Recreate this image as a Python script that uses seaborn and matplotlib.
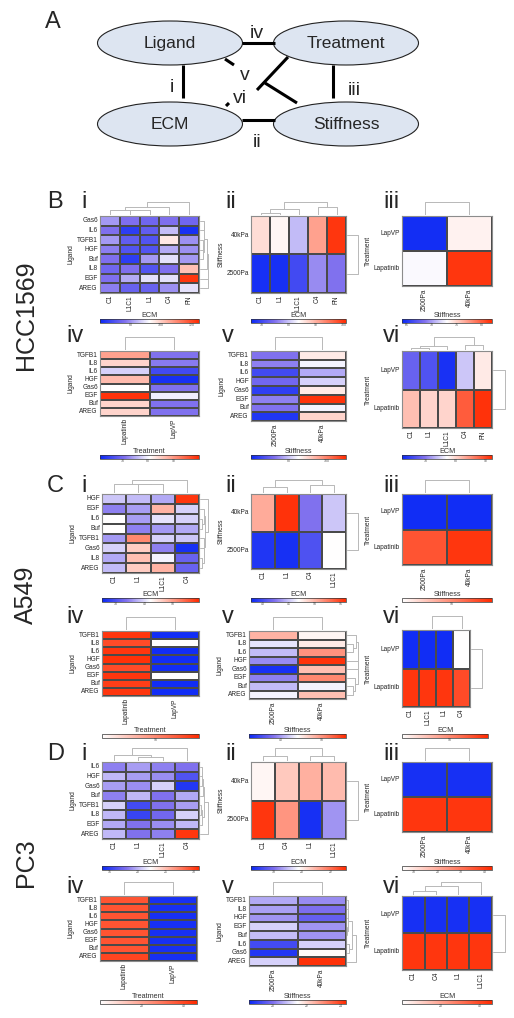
import numpy as np
import pandas as pd
import matplotlib
matplotlib.use("Agg")
import matplotlib.pyplot as plt
import seaborn as sns
from matplotlib.colors import LinearSegmentedColormap, TwoSlopeNorm, Normalize
from matplotlib.cm import ScalarMappable
from matplotlib.patches import Ellipse

sns.set_style("white")
plt.rcParams["font.family"] = ["Liberation Sans", "DejaVu Sans"]

# ---------------- data ----------------
TRT = ["LapVP", "Lapatinib"]
TRT_COLS = ["Lapatinib", "LapVP"]
STF = ["40kPa", "2500Pa"]
STF_COLS = ["2500Pa", "40kPa"]
LIG_ORDER = ["TGFB1", "IL8", "IL6", "HGF", "Gas6", "EGF", "Buf", "AREG"]

# HCC1569
hcc_lig_rows = ["Gas6", "IL6", "TGFB1", "HGF", "Buf", "IL8", "EGF", "AREG"]
hcc_ecm_cols_i = ["C1", "L1C1", "L1", "C4", "FN"]
hcc_lig_ecm = [[81, 76, 74, 76, 74],
               [76, 65, 72, 85, 62],
               [81, 72, 70, 96, 80],
               [78, 70, 70, 83, 80],
               [76, 65, 81, 89, 81],
               [74, 76, 70, 76, 102],
               [76, 83, 89, 89, 123],
               [78, 73, 73, 80, 89]]
hcc_ecm_cols_ii = ["C1", "L1", "L1C1", "C4", "FN"]
hcc_stf_ecm = [[86.3, 84.2, 79.3, 91.2, 100],
               [67, 67, 70.2, 76.5, 74.8]]
hcc_trt_stf = [[64.4, 73.5],
               [72.8, 81.5]]
hcc_lig_trt = [[89.1, 70.8], [84.4, 71.5], [77.4, 65.7], [86.7, 62.2],
               [80.5, 70.8], [99.2, 79.3], [84.4, 70.8], [84.4, 70.8]]
hcc_lig_stf = [[72.5, 87.5], [74, 84], [66, 77.5], [71, 81],
               [64, 87.5], [74, 109], [72.5, 84], [62.5, 90]]
hcc_trt_ecm = [[68, 66.5, 63, 74, 78.5],
               [81.5, 80, 80, 88.4, 91.4]]

# A549
a549_lig_rows = ["HGF", "EGF", "IL6", "Buf", "TGFB1", "Gas6", "IL8", "AREG"]
a549_ecm_cols_i = ["C1", "L1", "L1C1", "C4"]
a549_lig_ecm = [[38.6, 37.9, 36.9, 58],
                [34.5, 36.2, 48.1, 39.3],
                [42, 36.2, 40.3, 39.3],
                [42, 34.5, 35.9, 36.9],
                [35.9, 51.5, 39.3, 38.6],
                [39.3, 46.1, 34.5, 26],
                [36.9, 47.1, 41.3, 31.8],
                [37.9, 46.1, 48.1, 31.8]]
a549_ecm_cols_ii = ["C1", "L1", "C4", "L1C1"]
a549_stf_ecm = [[50.5, 55.6, 42.4, 45.1],
                [38.7, 38.3, 40.5, 46.9]]
a549_trt_stf = [[22.7, 22.7],
                [54.4, 56.9]]
a549_lig_trt = [[56.9, 22.7], [55.1, 40], [56.9, 22.7], [57.3, 22.7],
                [55.1, 22.7], [56.9, 40], [56.2, 22.7], [56.9, 22.7]]
a549_lig_stf = [[48.3, 44.5], [42.8, 45.2], [41.1, 50], [39.2, 55.5],
                [32.7, 47.6], [38.7, 50.7], [41.1, 43.5], [43.5, 47.6]]
a549_ecm_cols_vi = ["C1", "L1C1", "L1", "C4"]
a549_trt_ecm = [[22.7, 22.7, 22.7, 40],
                [56.9, 56.9, 56.9, 55.1]]

# PC3
pc3_lig_rows = ["IL6", "HGF", "Gas6", "Buf", "TGFB1", "IL8", "EGF", "AREG"]
pc3_ecm_cols_i = ["C1", "L1", "L1C1", "C4"]
pc3_lig_ecm = [[18.5, 19.4, 18.5, 18],
               [20.2, 19.4, 18.9, 16.3],
               [19.4, 18.9, 20.9, 14.6],
               [18.5, 20.2, 18, 19.7],
               [20.9, 15.8, 18, 19.4],
               [20.2, 15.4, 17.5, 20.9],
               [19.7, 18, 18.9, 20.2],
               [20.2, 18, 18.5, 30.4]]
pc3_ecm_cols_ii = ["C1", "C4", "L1", "L1C1"]
pc3_stf_ecm = [[19.9, 20.6, 21, 20.8],
               [22.9, 21.4, 16.6, 18.5]]
pc3_trt_stf = [[0.3, 0.3],
               [40.7, 40.7]]
pc3_lig_trt = [[37, -9.4], [37, -9.4], [37, -9.4], [37, -9.4],
               [37, -9.4], [37, -9.4], [37, -9.4], [40, -9.4]]
pc3_lig_rows_v = ["TGFB1", "IL8", "HGF", "EGF", "Buf", "IL6", "Gas6", "AREG"]
pc3_lig_stf = [[20.6, 20.3], [20.5, 20], [20.4, 19.7], [21, 20.4],
               [20.8, 20.4], [19.3, 21], [18.9, 21.5], [21, 24.2]]
pc3_trt_ecm = [[-9.4, -9.4, -9.4, -9.4],
               [43.2, 43.2, 43.2, 43.2]]

# colour scales: (vmin, centre, vmax, cbar ticks, white-red bar?)
scales = {
    "B1": (60, 92.5, 125, [80, 100, 120], False),
    "B2": (66, 83.5, 101, [70, 80, 90, 100], False),
    "B3": (64, 73, 82, [65, 70, 75, 80], False),
    "B4": (61, 80.5, 100, [70, 80, 90], False),
    "B5": (60, 85, 110, [80, 100], False),
    "B6": (62, 77, 92, [70, 80, 90], False),
    "C1": (25, 42, 59, [30, 40, 50], False),
    "C2": (37.8, 46.9, 56, [40, 45, 50, 55], False),
    "C3": (22, 40, 58, [50], True),
    "C4": (22, 40, 58, [50], True),
    "C5": (32, 44, 56, [40, 50], False),
    "C6": (22, 40, 58, [50], True),
    "D1": (13.7, 22.3, 30.9, [15, 20, 25, 30], False),
    "D2": (16.4, 19.75, 23.1, [18, 20, 22], False),
    "D3": (0, 5, 43, [10, 20, 30, 40], True),
    "D4": (-10, 0, 46, [20, 40], True),
    "D5": (18.6, 21.45, 24.3, [20, 22, 24], False),
    "D6": (-10, 0, 46, [20, 40], True),
}

panels = [
    ("B1", "i", hcc_lig_ecm, hcc_lig_rows, hcc_ecm_cols_i, "Ligand", "ECM"),
    ("B2", "ii", hcc_stf_ecm, STF, hcc_ecm_cols_ii, "Stiffness", "ECM"),
    ("B3", "iii", hcc_trt_stf, TRT, STF_COLS, "Treatment", "Stiffness"),
    ("B4", "iv", hcc_lig_trt, LIG_ORDER, TRT_COLS, "Ligand", "Treatment"),
    ("B5", "v", hcc_lig_stf, LIG_ORDER, STF_COLS, "Ligand", "Stiffness"),
    ("B6", "vi", hcc_trt_ecm, TRT, hcc_ecm_cols_ii, "Treatment", "ECM"),
    ("C1", "i", a549_lig_ecm, a549_lig_rows, a549_ecm_cols_i, "Ligand", "ECM"),
    ("C2", "ii", a549_stf_ecm, STF, a549_ecm_cols_ii, "Stiffness", "ECM"),
    ("C3", "iii", a549_trt_stf, TRT, STF_COLS, "Treatment", "Stiffness"),
    ("C4", "iv", a549_lig_trt, LIG_ORDER, TRT_COLS, "Ligand", "Treatment"),
    ("C5", "v", a549_lig_stf, LIG_ORDER, STF_COLS, "Ligand", "Stiffness"),
    ("C6", "vi", a549_trt_ecm, TRT, a549_ecm_cols_vi, "Treatment", "ECM"),
    ("D1", "i", pc3_lig_ecm, pc3_lig_rows, pc3_ecm_cols_i, "Ligand", "ECM"),
    ("D2", "ii", pc3_stf_ecm, STF, pc3_ecm_cols_ii, "Stiffness", "ECM"),
    ("D3", "iii", pc3_trt_stf, TRT, STF_COLS, "Treatment", "Stiffness"),
    ("D4", "iv", pc3_lig_trt, LIG_ORDER, TRT_COLS, "Ligand", "Treatment"),
    ("D5", "v", pc3_lig_stf, pc3_lig_rows_v, STF_COLS, "Ligand", "Stiffness"),
    ("D6", "vi", pc3_trt_ecm, TRT, pc3_ecm_cols_ii, "Treatment", "ECM"),
]

# ---------------- layout (pixels) ----------------
W, H = 514, 1018
boxes = {
    "B1": (100, 216, 199, 293), "B2": (251, 216, 346, 293), "B3": (402, 216, 492, 286),
    "B4": (100, 351, 199, 416), "B5": (251, 351, 346, 421), "B6": (402, 351, 492, 428),
    "C1": (102, 494, 199, 573), "C2": (251, 494, 346, 569), "C3": (402, 494, 492, 565),
    "C4": (102, 631, 199, 696), "C5": (249, 631, 346, 699), "C6": (402, 630, 470, 707),
    "D1": (102, 762, 199, 839), "D2": (251, 762, 346, 839), "D3": (402, 762, 492, 832),
    "D4": (100, 896, 197, 961), "D5": (249, 896, 346, 966), "D6": (402, 896, 492, 970),
}
row_tree_w = {"B1": 9, "B2": 12, "B6": 13, "C1": 9, "C2": 12, "C5": 12, "C6": 12,
              "D1": 9, "D2": 12, "D5": 10, "D6": 13}
cbar_y = {"B": (319, 455), "C": (598, 734), "D": (866, 1000)}
numeral_y = {"B": (208, 342), "C": (492, 623), "D": (760, 893)}
numeral_x = {"i": 81, "ii": 225, "iii": 383, "iv": 66, "v": 222, "vi": 383}

RED = "#ff2a00"
BWR = LinearSegmentedColormap.from_list(
    "bwr2", [(0, "#0a28f5"), (0.25, "#8070ee"), (0.5, "#ffffff"), (1, RED)])
WR = LinearSegmentedColormap.from_list("wr2", ["#ffffff", RED])
TREE = "#b8b8b8"

fig = plt.figure(figsize=(W / 100, H / 100), dpi=100)


def add_box(x0, y0, x1, y1):
    return fig.add_axes([x0 / W, 1 - y1 / H, (x1 - x0) / W, (y1 - y0) / H])


def neighbour_tree(vals):
    # average-linkage merging of neighbouring leaves, keeps the shown order
    groups = [[i] for i in range(len(vals))]
    pos = [i + 0.5 for i in range(len(vals))]
    hts = [0.0] * len(vals)
    links = []
    while len(groups) > 1:
        dist = []
        for k in range(len(groups) - 1):
            dd = [np.linalg.norm(vals[a] - vals[b]) for a in groups[k] for b in groups[k + 1]]
            dist.append(np.mean(dd))
        k = int(np.argmin(dist))
        h = max(dist[k], hts[k], hts[k + 1]) + 1e-6
        links.append((pos[k], hts[k], pos[k + 1], hts[k + 1], h))
        groups[k:k + 2] = [groups[k] + groups[k + 1]]
        pos[k:k + 2] = [(pos[k] + pos[k + 1]) / 2]
        hts[k:k + 2] = [h]
    return links, hts[0]


def draw_tree(ax, links, top, n, rows=False):
    for p1, h1, p2, h2, h in links:
        xs, ys = [p1, p1, p2, p2], [h1, h, h, h2]
        if rows:
            ax.plot(ys, xs, color=TREE, lw=0.7)
        else:
            ax.plot(xs, ys, color=TREE, lw=0.7)
    if rows:
        ax.set_xlim(0, top * 1.08)
        ax.set_ylim(n, 0)
    else:
        ax.set_xlim(0, n)
        ax.set_ylim(0, top * 1.08)
    ax.set_axis_off()


for key, num, vals, rows, cols, ylab, clab in panels:
    vmin, mid, vmax, ticks, white_red = scales[key]
    x0, y0, x1, y1 = boxes[key]
    arr = np.array(vals, dtype=float)
    df = pd.DataFrame(arr, index=rows, columns=cols)

    ax = add_box(x0, y0, x1, y1)
    sns.heatmap(df, ax=ax, cmap=BWR, norm=TwoSlopeNorm(mid, vmin, vmax), cbar=False,
                linewidths=0.35, linecolor="#4a4a4a")
    ax.set_xticks(np.arange(len(cols)) + 0.5)
    ax.set_xticklabels(cols, rotation=90, fontsize=4.7)
    ax.set_yticks(np.arange(len(rows)) + 0.5)
    ax.set_yticklabels(rows, rotation=0, fontsize=4.7)
    ax.tick_params(length=0, pad=1.5)
    ax.set_ylabel(ylab, fontsize=4.8, labelpad=1.5)
    ax.set_xlabel("")
    for s in ax.spines.values():
        s.set_visible(True)
        s.set_color("#8c8c8c")
        s.set_linewidth(0.8)

    # column dendrogram
    links, top = neighbour_tree(arr.T)
    tax = add_box(x0, y0 - 15, x1, y0 - 1)
    draw_tree(tax, links, top, len(cols))
    # row dendrogram
    if key in row_tree_w:
        links, top = neighbour_tree(arr)
        rax = add_box(x1 + 1, y0, x1 + 1 + row_tree_w[key], y1)
        draw_tree(rax, links, top, len(rows), rows=True)

    # colour key
    top_row = num in ("i", "ii", "iii")
    cy = cbar_y[key[0]][0 if top_row else 1]
    cx1 = 488 if key == "C6" else x1
    cax = add_box(x0, cy, cx1, cy + 3.5)
    if white_red:
        sm = ScalarMappable(norm=Normalize(mid, vmax), cmap=WR)
    else:
        sm = ScalarMappable(norm=Normalize(vmin, vmax), cmap=BWR)
    cb = fig.colorbar(sm, cax=cax, orientation="horizontal", ticks=ticks)
    cb.outline.set_linewidth(0.5)
    cb.outline.set_edgecolor("#333333")
    cax.tick_params(length=0, pad=0.6, labelsize=2.5, colors="#555555")
    cax.set_title(clab, fontsize=5.2, pad=0.6, color="#333333")

    # panel numeral
    ny = numeral_y[key[0]][0 if top_row else 1]
    fig.text(numeral_x[num] / W, 1 - ny / H, num, fontsize=17, va="baseline", ha="left")

# section letters and cell lines
for letter, (by, _) in numeral_y.items():
    fig.text(47 / W, 1 - by / H, letter, fontsize=17, va="baseline", ha="left")
for name, cy in [("HCC1569", 315), ("A549", 595), ("PC3", 863)]:
    fig.text(26 / W, 1 - cy / H, name, fontsize=18, rotation=90, va="center", ha="center")

# ---------------- panel A: the diagram ----------------
axA = fig.add_axes([0, 0, 1, 1], zorder=-1)
axA.set_xlim(0, W)
axA.set_ylim(H, 0)
axA.set_axis_off()
nodes = [("Ligand", 170, 43), ("Treatment", 346, 43), ("ECM", 170, 124), ("Stiffness", 346, 124)]
for name, cx, cy in nodes:
    axA.add_patch(Ellipse((cx, cy), 145, 44, fc="#dde5f1", ec="#222222", lw=0.8))
    axA.text(cx, cy, name, fontsize=12.5, ha="center", va="center")
edges = [((242, 43), (275, 43)), ((242, 120), (275, 120)), ((183, 65), (183, 98)),
         ((333, 65), (333, 98)), ((225, 59), (234, 65)), ((265, 83), (297, 103)),
         ((288, 57), (257, 90)), ((226, 106), (229, 103))]
for (xa, ya), (xb, yb) in edges:
    axA.plot([xa, xb], [ya, yb], color="black", lw=2.2, solid_capstyle="butt")
for lab, lx, ly in [("iv", 257, 38), ("ii", 257, 147), ("i", 172, 92), ("iii", 354, 95),
                    ("v", 245, 80), ("vi", 240, 103)]:
    axA.text(lx, ly, lab, fontsize=14, ha="center", va="baseline")
axA.text(45, 28, "A", fontsize=17, ha="left", va="baseline")

fig.savefig("out.png", dpi=100)
